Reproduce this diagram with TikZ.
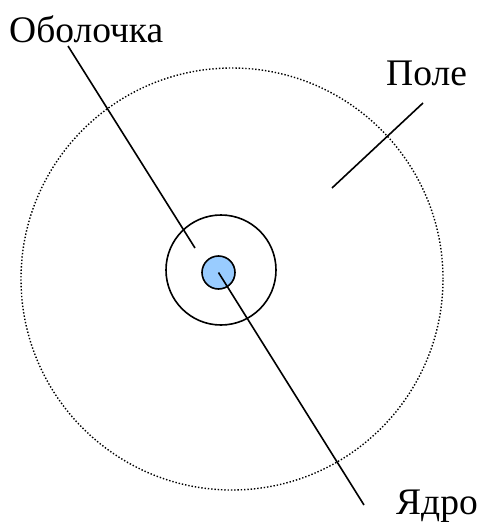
\documentclass[tikz,border=0pt]{standalone}
\usepackage{fontspec}
\setmainfont{Liberation Serif}
\definecolor{coreblue}{HTML}{99CCFF}
\begin{document}
\begin{tikzpicture}[x=1pt,y=-1pt,
  lbl/.style={inner sep=0pt,anchor=base west,font=\fontsize{37.5}{42}\selectfont},
  ring/.style={circle,draw,line width=1.6pt,inner sep=0pt},
  ptr/.style={line width=1.6pt}]
\useasboundingbox (0,0) rectangle (478,522);
\node[circle,draw,dash pattern=on 1.4pt off 1.9pt,line width=1.4pt,inner sep=0pt,minimum size=422pt] (field) at (232,279) {};
\node[ring,minimum size=110pt] (shell) at (221,270) {};
\node[ring,fill=coreblue,minimum size=33pt] (core) at (218.5,272.5) {};
\node[lbl] (tshell) at (9,42) {Оболочка};
\node[lbl] (tfield) at (386,85) {Поле};
\node[lbl] (tcore) at (396,514) {Ядро};
\coordinate (s1) at (68,46);
\coordinate (s2) at (195,248);
\coordinate (f1) at (423,103);
\coordinate (f2) at (332,188);
\coordinate (c2) at (364,505);
\draw[ptr] (s1) -- (s2);
\draw[ptr] (f1) -- (f2);
\draw[ptr] (core.center) -- (c2);
\end{tikzpicture}
\end{document}
